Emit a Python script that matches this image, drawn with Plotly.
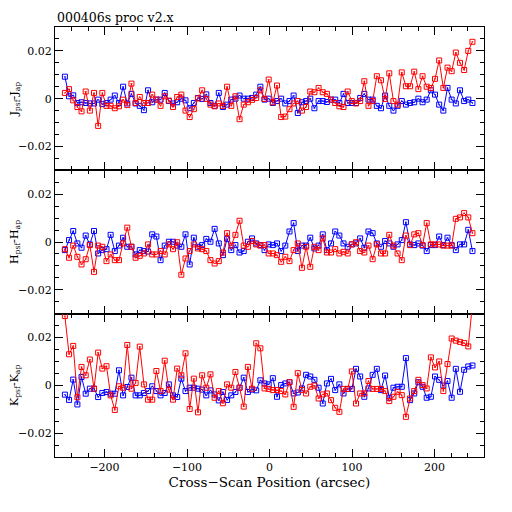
import numpy as np
import plotly.graph_objects as go
from plotly.subplots import make_subplots

# cross-scan positions (arcsec), same grid for every band
scan_pos = np.linspace(-248, 246, 99)

# J band residuals
j_blue = [
    0.0092, 0.001, 0.0014, -0.0018, -0.0015, -0.0018, -0.002, -0.002, -0.0004, -0.0023,
    -0.0018, -0.0004, 0.0013, -0.0018, 0.005, -0.002, 0.002, -0.002, -0.003, -0.0048,
    0.0035, -0.0015, -0.0004, -0.0004, 0.0024, -0.001, -0.002, -0.0015, 0.0, -0.0007,
    -0.004, -0.0018, 0.0003, -0.0001, 0.0018, -0.0018, -0.003, 0.0024, -0.0035, -0.0025,
    -0.0004, 0.0, 0.0013, 0.0, 0.0, 0.0003, 0.0017, 0.005,
    -0.0004, 0.0, -0.0018, -0.001, 0.0, -0.002, -0.001, 0.0013, -0.006, -0.0015,
    -0.001, 0.0, -0.004, -0.001, -0.001, -0.0014, -0.0004, -0.0004, -0.0018, 0.002,
    -0.0018, -0.0018, -0.0018, 0.0003, 0.002, -0.0004, -0.0004, -0.003, -0.004, 0.0013,
    -0.003, -0.005, -0.003, -0.001, -0.0025, -0.0018, -0.0015, 0.0, -0.0015, -0.0004,
    0.0035, 0.0017, -0.0025, -0.005, 0.0045, -0.0004, -0.002, 0.0035, -0.001, -0.0004,
    -0.0018,
]
j_red = [
    0.0024, 0.004, -0.0007, -0.0035, -0.0053, 0.003, -0.005, 0.0024, -0.0114, 0.0024,
    -0.003, -0.003, -0.004, -0.0032, -0.0004, -0.0027, 0.0063, -0.0018, 0.0007, -0.0018,
    -0.0018, 0.0017, -0.0004, -0.003, 0.001, -0.0008, -0.0035, 0.0007, 0.0017, -0.005,
    -0.0077, -0.0044, 0.0001, 0.0035, -0.0001, -0.0025, -0.0032, -0.002,
    -0.003, 0.005, -0.003, 0.001, -0.0086, -0.0025, -0.0015, -0.0005, 0.0003, 0.0035,
    -0.0001, 0.008, -0.0015, 0.0055, -0.0077, -0.0075, -0.0044, -0.002, -0.001, -0.005,
    -0.0035, 0.003, 0.0027, 0.0045, 0.0027, 0.002, -0.0004, -0.0018, -0.0032, -0.0035,
    0.003, -0.001, -0.002, -0.001, 0.0073, -0.003, -0.001, 0.0094, 0.0077, -0.0001,
    0.0106, -0.001, -0.0025, 0.011, 0.0052, 0.0052, 0.0113, 0.004, 0.0094, 0.005,
    0.0045, 0.0083, 0.016, 0.0045, 0.013, 0.0115, 0.0193, 0.015, 0.012, 0.020,
    0.0238,
]

# H band residuals
h_blue = [
    -0.0034, 0.0008, 0.0046, -0.0006, -0.0024, 0.0027, -0.001, 0.0046, -0.0048, -0.0034,
    -0.003, 0.003, -0.0038, -0.0015, 0.0018, -0.002, -0.002, -0.0052, -0.0034, -0.0038,
    -0.004, 0.0032, 0.0023, -0.0076, -0.0015, 0.0001, 0.0001, -0.0015, -0.002, 0.0032,
    -0.0094, 0.0018, -0.002, -0.0013, 0.0013, 0.0001, 0.0055, -0.0006, -0.0055, 0.0013,
    -0.0034, -0.0013, -0.0044, -0.0038, 0.0001, 0.0015, -0.0006, -0.0013, -0.0034, -0.001,
    -0.0013, -0.0006, -0.0038, -0.0015, 0.0044, 0.0079, -0.0038, -0.0015, -0.0015, 0.0018,
    -0.0027, -0.0015, 0.0032, -0.0034, -0.0006, 0.0044, 0.0027, -0.0006, -0.002, -0.001,
    -0.0006, 0.0015, -0.0024, 0.0044, 0.0037, -0.0006, -0.002, 0.0004, -0.0006, -0.002,
    -0.001, 0.0008, 0.0083, -0.001, -0.0013, -0.0006, -0.0015, -0.0038, -0.0013, -0.0013,
    0.0023, -0.0013, 0.0018, -0.0013, -0.0034, -0.001, -0.001, 0.0051, -0.0038,
]
h_red = [
    -0.003, -0.0066, -0.0015, -0.0062, -0.0094, -0.0072, -0.0013, -0.0125, -0.0015, -0.002,
    -0.008, -0.0052, -0.0076, -0.0076, -0.0006, 0.006, -0.002, -0.0066, -0.0058, -0.0048,
    -0.001, -0.0052, -0.0052, -0.0038, -0.0052, -0.001, -0.003, -0.0001, -0.0137, -0.0069,
    -0.0038, -0.001, -0.0027, -0.003, -0.0038, -0.0076, -0.009, -0.008, -0.0044, 0.0037,
    -0.0015, 0.003, 0.0089, -0.0015, -0.002, 0.0004, -0.001, -0.0015, -0.0013, -0.0048,
    -0.0048, -0.0055, -0.0083, -0.0062, -0.008, -0.0034, -0.0006, -0.0108, -0.002, -0.0104,
    -0.002, -0.0034, 0.0015, -0.0044, -0.0044, -0.003, -0.0048, -0.0041, -0.0048, -0.001,
    -0.0001, -0.0038, -0.0044, -0.0015, -0.0072, -0.001, -0.0048, -0.0048, 0.003, -0.0015,
    -0.0048, -0.0076, 0.0027, -0.0013, 0.0032, 0.0037, -0.0013, 0.0079, -0.001, -0.001,
    -0.001, -0.0015, -0.0015, -0.0015, 0.0097, 0.0103, 0.0121, 0.0103, 0.0037,
]

# K band residuals
k_blue = [
    -0.0039, -0.0061, 0.0024, -0.008, 0.0035, -0.0035, -0.0014, -0.0014, -0.0049, -0.0032,
    -0.0028, -0.0035, -0.0035, 0.0063, -0.0042, -0.0007, 0.0032, -0.0042, -0.0042, -0.0032,
    -0.0024, -0.0004, -0.0024, -0.0042, -0.0032, 0.0004, -0.0042, -0.0049, 0.0028, -0.0024,
    -0.001, -0.001, -0.0014, -0.0018, -0.0042, -0.0021, -0.0038, -0.0063, -0.0028, -0.0061,
    -0.0042, -0.0028, -0.001, 0.0032, -0.0028, -0.0018, -0.0021, 0.0021,
    0.0008, 0.0004, 0.003, -0.0048, 0.0001, 0.0008, 0.0013, -0.0034, -0.003, -0.0013,
    0.0044, 0.0037, 0.0023, -0.001, -0.0076, 0.0008, 0.0027, -0.002, 0.0004, -0.0034,
    -0.0015, -0.0015, 0.0069, 0.0037, -0.0048, -0.0013, 0.0044, 0.0069, -0.002, 0.0041,
    -0.0052, -0.001, -0.0006, -0.0006, 0.0114, -0.0062, -0.0034, 0.0013, -0.0006, -0.0052,
    -0.0048, 0.0037, 0.0023, -0.0001, 0.0018, -0.0052, 0.0069, -0.0027, 0.0065, 0.0079,
    0.0083,
]
k_red = [
    0.029, 0.013, 0.0165, -0.005, 0.0077, 0.0042, 0.0108, -0.0014, 0.0137, 0.007,
    0.008, -0.0042, -0.0103, -0.0004, -0.001, 0.0169, -0.0014, 0.001, 0.0162, 0.0004,
    -0.006, -0.006, 0.006, -0.0024, 0.0103, -0.0018, -0.006, 0.007, 0.0042, 0.0134,
    -0.0099, 0.0028, -0.0113, 0.0042, -0.001, 0.0046, -0.0052, -0.0024, -0.0075, 0.0004,
    -0.001, 0.0056, -0.001, -0.0089, 0.0077, -0.0014, 0.0176, 0.0155,
    -0.0013, -0.0015, -0.002, -0.002, -0.0024, -0.0038, 0.0013, -0.009, 0.0051, -0.002,
    -0.0034, -0.0006, -0.0001, -0.0055, -0.0038, -0.0034, -0.0062, -0.0094, -0.0111, -0.0015,
    -0.0015, 0.0058, -0.0076, -0.0034, -0.0034, 0.0018, -0.0015, -0.0015, -0.0015, -0.0024,
    -0.0066, -0.0048, -0.0027, -0.0041, -0.0132, -0.0055, -0.0024, 0.0023, 0.0001, -0.0013,
    0.0117, 0.0075, 0.01, -0.0024, 0.0089, 0.0196, 0.0187, 0.0182, 0.0177, 0.0163,
    0.034,
]

bands = [
    ("J<sub>psf</sub>-J<sub>ap</sub>", j_blue, j_red),
    ("H<sub>psf</sub>-H<sub>ap</sub>", h_blue, h_red),
    ("K<sub>psf</sub>-K<sub>ap</sub>", k_blue, k_red),
]

FONT = "DejaVu Serif"

fig = make_subplots(rows=3, cols=1, shared_xaxes=True, vertical_spacing=0)

for row, (label, blue, red) in enumerate(bands, start=1):
    for vals, color in [(blue, "#0000ff"), (red, "#ff0000")]:
        fig.add_trace(go.Scatter(
            x=scan_pos[:len(vals)],
            y=vals,
            mode="lines+markers",
            line=dict(color=color, width=1),
            marker=dict(symbol="square-open-dot", size=5, color=color,
                        line=dict(color=color, width=1)),
            showlegend=False,
        ), row=row, col=1)

    fig.update_yaxes(
        range=[-0.03, 0.03],
        tickvals=[-0.02, 0, 0.02],
        ticktext=["\u22120.02", "0", "0.02"],
        ticks="inside", ticklen=8, tickwidth=1, tickcolor="black",
        minor=dict(dtick=0.005, tick0=0, ticks="inside", ticklen=4, tickcolor="black"),
        showline=True, linecolor="black", linewidth=1, mirror="ticks",
        showgrid=False, zeroline=False, automargin=False,
        title=dict(text=label, font=dict(family=FONT, size=11, color="black"), standoff=9),
        tickfont=dict(family=FONT, size=11, color="black"),
        row=row, col=1,
    )

fig.update_xaxes(
    range=[-260, 260],
    tickvals=[-200, -100, 0, 100, 200],
    ticktext=["\u2212200", "\u2212100", "0", "100", "200"],
    ticks="inside", ticklen=8, tickwidth=1, tickcolor="black",
    minor=dict(dtick=20, tick0=0, ticks="inside", ticklen=4, tickcolor="black"),
    showline=True, linecolor="black", linewidth=1, mirror="ticks",
    showgrid=False, zeroline=False, automargin=False,
    tickfont=dict(family=FONT, size=11, color="black"),
)
fig.update_xaxes(showticklabels=False, row=1, col=1)
fig.update_xaxes(showticklabels=False, row=2, col=1)
fig.update_xaxes(
    title=dict(text="Cross\u2212Scan Position (arcsec)",
               font=dict(family=FONT, size=13.5, color="black"), standoff=2),
    row=3, col=1,
)

fig.add_annotation(
    text="000406s proc v2.x", xref="paper", yref="paper",
    x=0.0, y=1.0, xanchor="left", yanchor="bottom", showarrow=False,
    font=dict(family=FONT, size=12.5, color="black"), yshift=0,
)

# page body adds 8px, margins are trimmed to match
fig.update_layout(
    width=512, height=512,
    margin=dict(l=47, r=36, t=19, b=63),
    paper_bgcolor="white", plot_bgcolor="white",
)

fig.write_html("out.html")
